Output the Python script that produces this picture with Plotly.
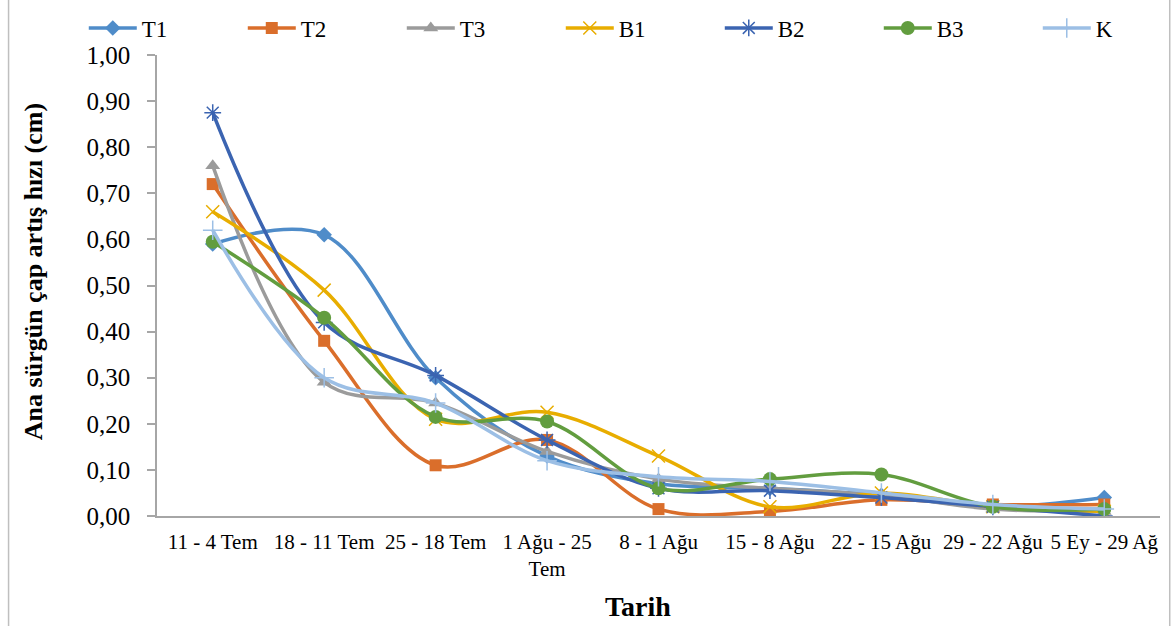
import plotly.graph_objects as go

# Weekly intervals (x axis)
categories = [
    "11 - 4 Tem", "18 - 11 Tem", "25 - 18 Tem", "1 Ağu - 25<br>Tem", "8 - 1 Ağu",
    "15 - 8 Ağu", "22 - 15 Ağu", "29 - 22 Ağu", "5 Ey - 29 Ağ",
]

# Main shoot diameter growth rate (cm) per treatment
T1 = [0.59, 0.61, 0.30, 0.13, 0.07, 0.06, 0.045, 0.02, 0.04]
T2 = [0.72, 0.38, 0.11, 0.165, 0.015, 0.01, 0.035, 0.025, 0.025]
T3 = [0.76, 0.29, 0.245, 0.14, 0.08, 0.06, 0.045, 0.015, 0.01]
B1 = [0.66, 0.49, 0.21, 0.225, 0.13, 0.02, 0.05, 0.02, 0.01]
B2 = [0.875, 0.42, 0.305, 0.165, 0.06, 0.055, 0.04, 0.02, 0.0]
B3 = [0.595, 0.43, 0.215, 0.205, 0.06, 0.08, 0.09, 0.02, 0.015]
K = [0.62, 0.30, 0.245, 0.12, 0.085, 0.075, 0.05, 0.025, 0.015]

y_ticks = [0.0, 0.1, 0.2, 0.3, 0.4, 0.5, 0.6, 0.7, 0.8, 0.9, 1.0]

series = [
    ("T1", T1, "#4F8CC9", "diamond", 12, False),
    ("T2", T2, "#DA6E2B", "square", 12, False),
    ("T3", T3, "#9B9B9B", "triangle-up", 13, False),
    ("B1", B1, "#E8AD00", "x-thin-open", 13, True),
    ("B2", B2, "#3B64B1", "asterisk-open", 14, True),
    ("B3", B3, "#629D3F", "circle", 14, False),
    ("K", K, "#9CBFE5", "cross-thin-open", 14, True),
]

serif = "Liberation Serif, Times New Roman, serif"

fig = go.Figure()
for name, vals, color, symbol, size, thin in series:
    marker = dict(symbol=symbol, size=size, color=color)
    if thin:
        marker["line"] = dict(color=color, width=1.5)
    fig.add_trace(go.Scatter(
        x=categories, y=vals, name=name, mode="lines+markers",
        line=dict(color=color, width=3.5, shape="spline", smoothing=1.0),
        marker=marker,
    ))

axis_grey = "#A6A6A6"
fig.update_layout(
    width=1172, height=626,
    margin=dict(l=157, r=12, t=55, b=110, autoexpand=False),
    paper_bgcolor="white", plot_bgcolor="white",
    separators=",.",
    font=dict(family=serif, color="black"),
    showlegend=True,
    legend=dict(
        orientation="h", x=-0.073, xanchor="left", y=1.0586, yanchor="middle",
        entrywidth=96, entrywidthmode="pixels",
        font=dict(family=serif, size=23, color="black"),
        itemwidth=48, bgcolor="rgba(0,0,0,0)",
    ),
    xaxis=dict(
        type="category", range=[-0.5, 8.5], showgrid=False,
        showline=True, linecolor=axis_grey, linewidth=1.5,
        ticks="", ticklabelstandoff=6,
        tickfont=dict(family=serif, size=21, color="black"),
    ),
    yaxis=dict(
        range=[0, 1.0], tickvals=y_ticks, tickformat=".2f", showgrid=False,
        showline=True, linecolor=axis_grey, linewidth=1.5,
        ticks="outside", ticklen=8, tickcolor=axis_grey, tickwidth=1.5,
        ticklabelstandoff=12,
        tickfont=dict(family=serif, size=25, color="black"), zeroline=False,
    ),
    annotations=[
        dict(text="<b>Ana sürgün çap artış hızı (cm)</b>", textangle=-90,
             xref="paper", yref="paper", x=-0.1236, y=0.529,
             xanchor="center", yanchor="middle", showarrow=False,
             font=dict(family=serif, size=26, color="black")),
        dict(text="<b>Tarih</b>", xref="paper", yref="paper",
             x=0.4796, y=-0.197, xanchor="center", yanchor="middle",
             showarrow=False, font=dict(family=serif, size=28, color="black")),
    ],
    shapes=[
        dict(type="line", xref="paper", yref="paper", x0=-0.148, x1=-0.148,
             y0=-0.3, y1=1.2, line=dict(color="#BFBFBF", width=1.5)),
        dict(type="line", xref="paper", yref="paper", x0=1.0097, x1=1.0097,
             y0=-0.3, y1=1.2, line=dict(color="#BFBFBF", width=1.5)),
    ],
)

fig.write_html("out.html")
